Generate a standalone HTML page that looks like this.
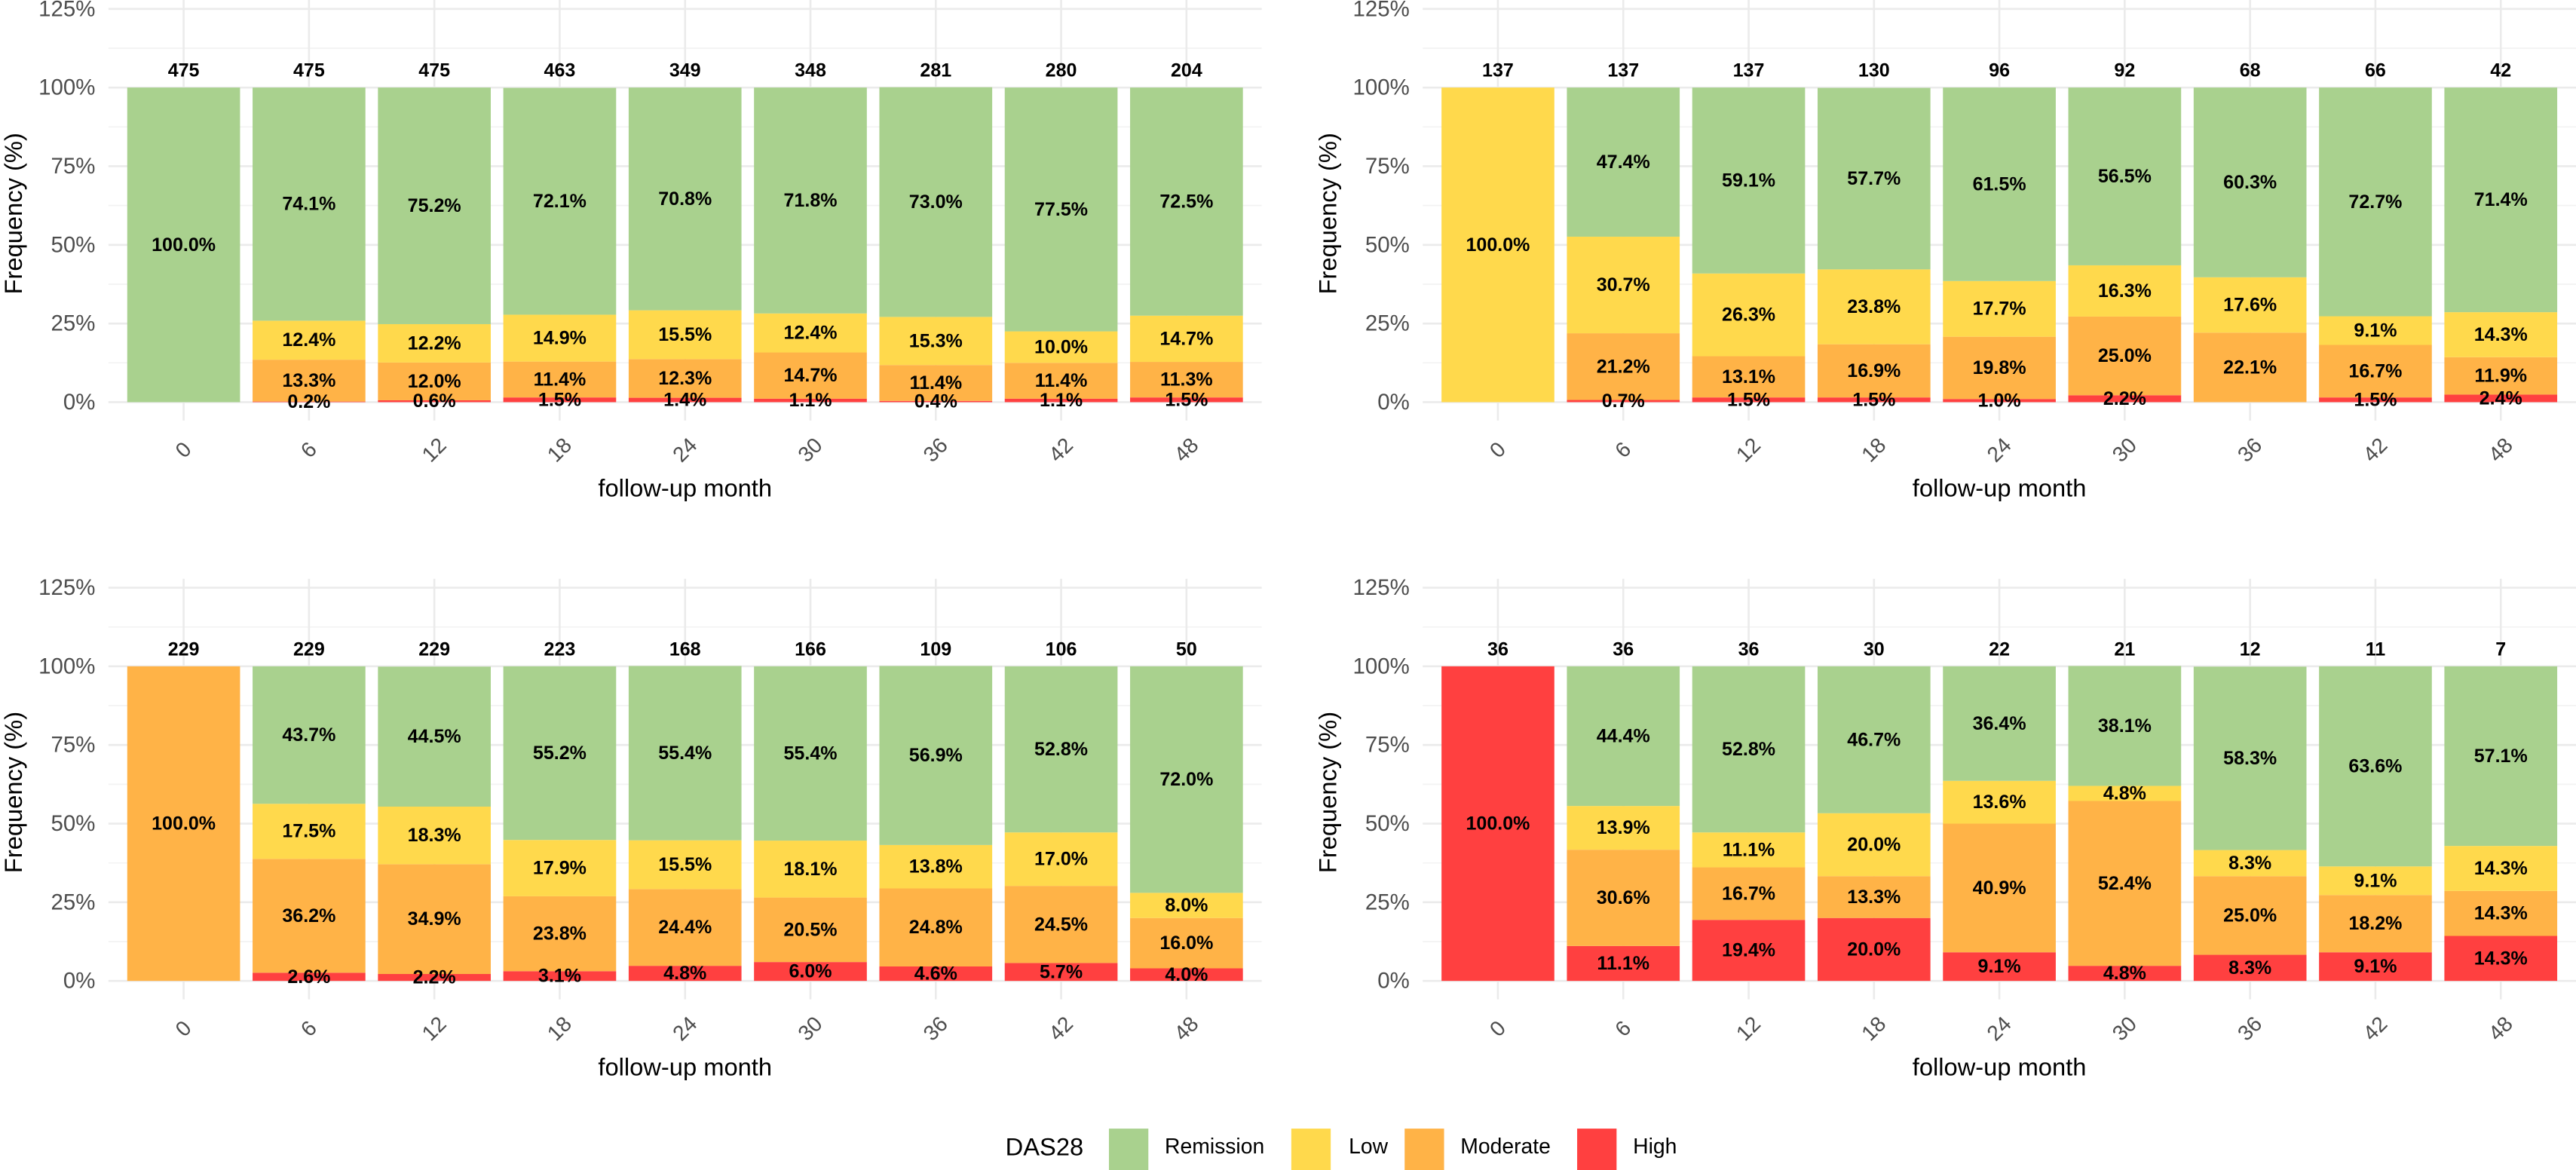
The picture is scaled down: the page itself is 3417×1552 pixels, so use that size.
<!DOCTYPE html>
<html><head><meta charset="utf-8"><style>
html,body{margin:0;padding:0;background:#fff;}
svg{display:block;font-family:"Liberation Sans",Arial,sans-serif;}
</style></head><body>
<svg id="chart" xmlns="http://www.w3.org/2000/svg" width="3417" height="1552" viewBox="0 0 1568 712.2" preserveAspectRatio="none">
<g id="panels"></g>
<g id="legend">
  <text x="612" y="698" font-size="15" dominant-baseline="central" fill="#000">DAS28</text>
  <rect x="675" y="687" width="24" height="26" fill="#A9D18E"/>
  <text x="709" y="698" font-size="13" dominant-baseline="central">Remission</text>
  <rect x="786" y="687" width="24" height="26" fill="#FFD94C"/>
  <text x="821" y="698" font-size="13" dominant-baseline="central">Low</text>
  <rect x="855" y="687" width="24" height="26" fill="#FFB347"/>
  <text x="889" y="698" font-size="13" dominant-baseline="central">Moderate</text>
  <rect x="960" y="687" width="24" height="26" fill="#FF4040"/>
  <text x="994" y="698" font-size="13" dominant-baseline="central">High</text>
</g>
</svg>
<script>
const categories = ["0","6","12","18","24","30","36","42","48"];
const yTicks = [0,25,50,75,100,125];
const yTickLabels = ["0%","25%","50%","75%","100%","125%"];

const p1N = [475,475,475,463,349,348,281,280,204];
const p1Remission = [100,74.1,75.2,72.1,70.8,71.8,73.0,77.5,72.5];
const p1Low = [0,12.4,12.2,14.9,15.5,12.4,15.3,10.0,14.7];
const p1Moderate = [0,13.3,12.0,11.4,12.3,14.7,11.4,11.4,11.3];
const p1High = [0,0.2,0.6,1.5,1.4,1.1,0.4,1.1,1.5];

const p2N = [137,137,137,130,96,92,68,66,42];
const p2Remission = [0,47.4,59.1,57.7,61.5,56.5,60.3,72.7,71.4];
const p2Low = [100,30.7,26.3,23.8,17.7,16.3,17.6,9.1,14.3];
const p2Moderate = [0,21.2,13.1,16.9,19.8,25.0,22.1,16.7,11.9];
const p2High = [0,0.7,1.5,1.5,1.0,2.2,0,1.5,2.4];

const p3N = [229,229,229,223,168,166,109,106,50];
const p3Remission = [0,43.7,44.5,55.2,55.4,55.4,56.9,52.8,72.0];
const p3Low = [0,17.5,18.3,17.9,15.5,18.1,13.8,17.0,8.0];
const p3Moderate = [100,36.2,34.9,23.8,24.4,20.5,24.8,24.5,16.0];
const p3High = [0,2.6,2.2,3.1,4.8,6.0,4.6,5.7,4.0];

const p4N = [36,36,36,30,22,21,12,11,7];
const p4Remission = [0,44.4,52.8,46.7,36.4,38.1,58.3,63.6,57.1];
const p4Low = [0,13.9,11.1,20.0,13.6,4.8,8.3,9.1,14.3];
const p4Moderate = [0,30.6,16.7,13.3,40.9,52.4,25.0,18.2,14.3];
const p4High = [100,11.1,19.4,20.0,9.1,4.8,8.3,9.1,14.3];

const NS = "http://www.w3.org/2000/svg";
const colors = {High:"#FF4040",Moderate:"#FFB347",Low:"#FFD94C",Remission:"#A9D18E"};
const panels = [
  {dx:0, dy:0, n:p1N, s:{High:p1High,Moderate:p1Moderate,Low:p1Low,Remission:p1Remission}},
  {dx:800, dy:0, n:p2N, s:{High:p2High,Moderate:p2Moderate,Low:p2Low,Remission:p2Remission}},
  {dx:0, dy:352.3, n:p3N, s:{High:p3High,Moderate:p3Moderate,Low:p3Low,Remission:p3Remission}},
  {dx:800, dy:352.3, n:p4N, s:{High:p4High,Moderate:p4Moderate,Low:p4Low,Remission:p4Remission}}
];
const order = ["High","Moderate","Low","Remission"];
function mk(tag, attrs, parent){ const e=document.createElementNS(NS,tag); for(const k in attrs) e.setAttribute(k,attrs[k]); parent.appendChild(e); return e; }
const root = document.getElementById("panels");

panels.forEach((p, pi) => {
  const g = mk("g", {}, root);
  
  
  const x0 = 66 + p.dx, x1 = 768 + p.dx;
  const step = (x1 - x0) / 9.2;
  const bw = step * 0.9;
  const xC = i => x0 + step * (0.6 + i);
  const y = v => p.dy + 244.8 - v * (244.8 - 53.3) / 100;
  // minor grid
  for (let v = 12.5; v < 125; v += 25) {
    const l = mk("line", {x1:x0, x2:x1, y1:y(v), y2:y(v), stroke:"#f3f3f3", "stroke-width":0.8}, g);
    
    
  }
  yTicks.forEach((v, k) => {
    const l = mk("line", {x1:x0, x2:x1, y1:y(v), y2:y(v), stroke:"#ebebeb", "stroke-width":1.2}, g);
    
    
    const t = mk("text", {x:58 + p.dx, y:y(v), "text-anchor":"end", "dominant-baseline":"central", "font-size":13.5, fill:"#4d4d4d"}, g);
    t.textContent = yTickLabels[k];
    
    
  });
  categories.forEach((c, i) => {
    const l = mk("line", {x1:xC(i), x2:xC(i), y1:p.dy + 0, y2:p.dy + 256, stroke:"#ebebeb", "stroke-width":1.2}, g);
    
    
  });
  // bars
  categories.forEach((c, i) => {
    let cum = 0;
    order.forEach(k => {
      const v = p.s[k][i];
      if (v > 0) {
        const r = mk("rect", {x:xC(i) - bw/2, y:y(cum + v), width:bw, height:y(cum) - y(cum + v), fill:colors[k]}, g);
        
        
      }
      cum += v;
    });
    cum = 0;
    order.forEach(k => {
      const v = p.s[k][i];
      if (v > 0) {
        const t = mk("text", {x:xC(i), y:y(cum + v/2), "text-anchor":"middle", "dominant-baseline":"central", "font-size":11.5, "font-weight":"bold", fill:"#000"}, g);
        t.textContent = v.toFixed(1) + "%";
        
        
      }
      cum += v;
    });
    const nt = mk("text", {x:xC(i), y:p.dy + 43, "text-anchor":"middle", "dominant-baseline":"central", "font-size":11.5, "font-weight":"bold", fill:"#000"}, g);
    nt.textContent = p.n[i];
    
    
    const xt = mk("text", {x:xC(i), y:p.dy + 274, "text-anchor":"middle", "dominant-baseline":"central", "font-size":13, fill:"#4d4d4d", transform:"rotate(-45 " + xC(i) + " " + (p.dy + 274) + ")"}, g);
    xt.textContent = c;
    
    
  });
  const xa = mk("text", {x:(x0 + x1)/2, y:p.dy + 297, "text-anchor":"middle", "dominant-baseline":"central", "font-size":15, fill:"#000"}, g);
  xa.textContent = "follow-up month";
  
  
  const ya = mk("text", {x:8 + p.dx, y:p.dy + 130, "text-anchor":"middle", "dominant-baseline":"central", "font-size":15, fill:"#000", transform:"rotate(-90 " + (8 + p.dx) + " " + (p.dy + 130) + ")"}, g);
  ya.textContent = "Frequency (%)";
  
  
});
</script>
</body></html>
